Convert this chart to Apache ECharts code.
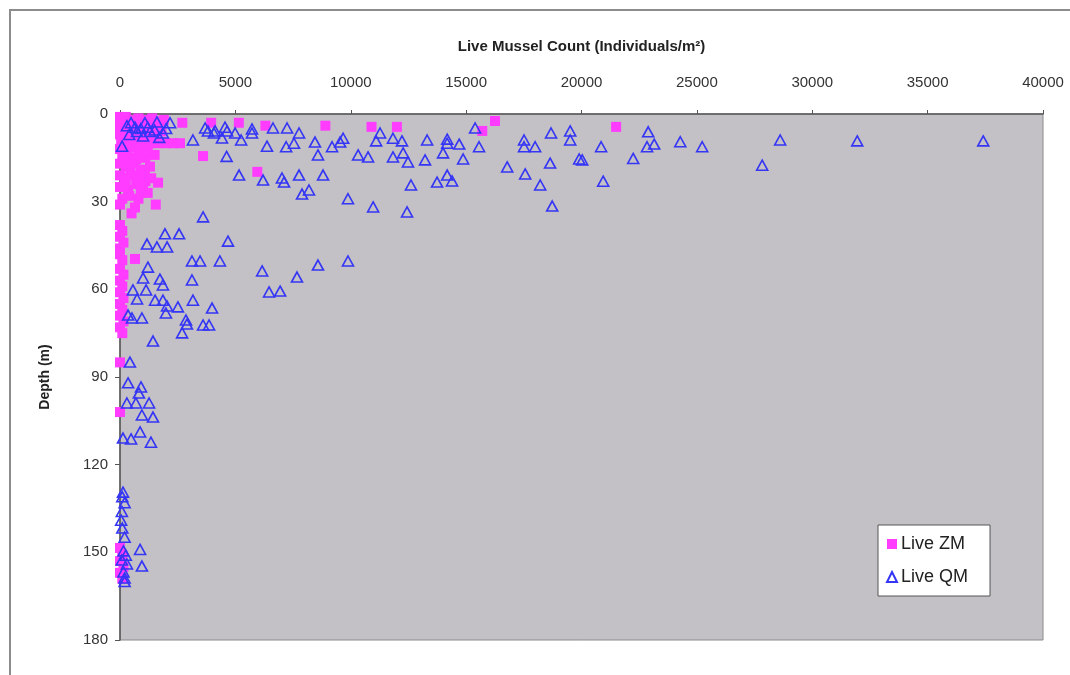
<!DOCTYPE html>
<html>
<head>
<meta charset="utf-8">
<script src="https://cdn.jsdelivr.net/npm/echarts@6/dist/echarts.min.js"></script>
<style>
  html, body { margin: 0; padding: 0; background: #fff; }
  #chart { width: 1070px; height: 675px; }
</style>
</head>
<body>
<div id="chart"></div>
<script>
// x tick labels on the top axis
const xTicks = [0, 5000, 10000, 15000, 20000, 25000, 30000, 35000, 40000];
const depthTicks = [0, 30, 60, 90, 120, 150, 180];

// Live ZM: [count, depth]
const liveZM = [
  [0, 1], [100, 2], [250, 1], [400, 3], [600, 2], [800, 1.5], [1000, 3], [1200, 2], [1400, 1.5], [1700, 2.5], [1900, 2],
  [0, 4], [150, 5], [350, 6], [550, 4.5], [750, 6], [950, 5], [1150, 7], [1350, 6], [1550, 5],
  [0, 7], [200, 8], [450, 9], [700, 8], [900, 10], [1100, 9], [1300, 10], [1500, 8],
  [300, 3.5], [700, 3.5], [1100, 4.5], [1600, 7], [1800, 6], [50, 10], [600, 10.5],
  [2000, 10], [2300, 10], [2600, 10], [1650, 10],
  [2700, 3], [3950, 3], [5150, 3], [6300, 4], [8900, 4], [10900, 4.4], [12000, 4.4], [15700, 5.8], [16250, 2.4], [21500, 4.4],
  [3600, 14.4], [5950, 19.8],
  [0, 12], [100, 14], [300, 13], [500, 15], [800, 13], [1100, 15], [0, 17], [250, 18], [600, 17], [900, 19], [1300, 18],
  [400, 11.5], [700, 15.5], [1200, 12.5], [1500, 14], [150, 16], [450, 19.5], [750, 21.5], [1100, 23],
  [0, 21], [200, 22], [500, 21], [1080, 20], [1350, 22], [1650, 23.5], [0, 25], [350, 26], [700, 24], [1000, 25], [1200, 27],
  [100, 29], [400, 28], [800, 29], [1550, 31], [650, 32], [500, 34], [0, 31], [250, 24], [900, 27],
  [0, 38], [100, 40], [0, 42], [150, 44], [0, 46], [0, 48], [650, 49.6], [100, 50], [0, 53], [150, 55], [0, 57], [100, 59],
  [0, 61], [150, 63], [0, 65], [100, 67], [0, 69], [150, 71], [0, 73], [100, 75],
  [0, 85], [0, 102],
  [0, 148.5], [100, 151], [0, 153], [150, 155], [0, 157], [100, 159]
];

// Live QM: [count, depth]
const liveQM = [
  [480, 3], [1080, 3], [1600, 2.7], [2170, 3], [740, 6], [1300, 6], [1860, 6.5], [90, 11], [300, 4], [650, 4.5], [900, 5],
  [1200, 4.5], [1500, 5.5], [2000, 5], [400, 7], [1000, 7.5], [1700, 8],
  [3160, 8.9], [3690, 4.8], [3810, 5.8], [4070, 6.5], [4120, 5.8], [4420, 8.2], [4550, 4.5], [4640, 5.8], [4990, 6.5],
  [5250, 8.9], [5720, 5.1], [5720, 6.5], [6370, 11], [6630, 4.8], [7240, 4.8], [7760, 6.5], [7200, 11.2], [7540, 10],
  [8450, 9.6], [8580, 14], [9190, 11.2], [9540, 9.6], [4620, 14.5], [5160, 20.9], [6200, 22.6], [7020, 21.9], [7110, 23.3],
  [7760, 20.9], [7890, 27.4], [8190, 26], [8800, 20.9], [3600, 35.2], [9880, 29],
  [9670, 8.3], [11270, 6.5], [11100, 9.2], [11830, 8.3], [12220, 9.2], [13310, 8.9], [14180, 8.6], [14180, 10], [14700, 10.3],
  [15390, 4.8], [15560, 11.2], [17510, 8.9], [17510, 11.2], [17990, 11.2], [18680, 6.5], [19510, 5.8], [19510, 8.9],
  [10320, 14], [10750, 14.7], [11830, 14.7], [12270, 13.3], [12480, 16.4], [13220, 15.7], [14000, 13.3], [14870, 15.4],
  [16780, 18.1], [18640, 16.8], [19900, 15.4], [17560, 20.5], [18210, 24.3], [13740, 23.3], [14180, 20.9], [14390, 22.9],
  [12610, 24.3], [10970, 31.8], [12440, 33.5], [18730, 31.5],
  [22890, 6.1], [22840, 11.2], [23150, 10.3], [20850, 11.2], [20030, 15.7], [22240, 15.2], [20940, 23], [24280, 9.5],
  [25230, 11.2], [28610, 8.9], [27830, 17.5], [31950, 9.2], [37410, 9.2],
  [1950, 41], [2560, 41], [4680, 43.5], [1170, 44.5], [1600, 45.5], [2040, 45.5], [3120, 50.3], [3470, 50.3], [4330, 50.3],
  [1210, 52.4], [6160, 53.7], [7670, 55.8], [8580, 51.7], [9880, 50.3], [6460, 60.9], [6940, 60.6], [1000, 56.1], [1730, 56.5],
  [1860, 58.5], [3120, 56.8], [560, 60.2], [1130, 60.2], [740, 63.3], [1520, 63.7], [1860, 63.7], [2040, 65.7], [2510, 66],
  [3160, 63.7], [3990, 66.4], [1990, 68.1], [350, 68.8], [520, 69.8], [950, 69.8], [2860, 70.5], [2900, 71.9], [3600, 72.2],
  [3860, 72.2], [2690, 74.9], [1430, 77.7],
  [430, 84.9], [350, 92], [910, 93.4], [820, 95.5], [300, 98.9], [690, 98.9], [1260, 98.9], [950, 103], [1430, 103.7],
  [870, 108.8], [130, 110.9], [480, 111.2], [1340, 112.3],
  [130, 129.4], [100, 131], [200, 133], [80, 136], [50, 139], [100, 141.7], [200, 144.8], [870, 149], [150, 149.5],
  [250, 151], [80, 152.6], [950, 154.7], [300, 154], [150, 156.7], [200, 158.8], [200, 160]
];

const chart = echarts.init(document.getElementById('chart'), null, { renderer: 'canvas' });
const labelFont = "'Liberation Sans', Arial, sans-serif";

chart.setOption({
  animation: false,
  backgroundColor: '#fff',
  grid: {
    left: 120, right: 27, top: 114, bottom: 35,
    show: true, backgroundColor: '#c3c1c5', borderColor: '#8a8a8a', borderWidth: 1
  },
  graphic: [{
    type: 'rect',
    shape: { x: 10, y: 10, width: 1080, height: 700 },
    style: { fill: 'none', stroke: '#8c8c8c', lineWidth: 2 },
    silent: true
  }],
  legend: {
    orient: 'vertical',
    left: 878, top: 525,
    backgroundColor: '#fff',
    borderColor: '#555', borderWidth: 1,
    padding: [10, 22, 10, 8],
    itemGap: 15, itemWidth: 10, itemHeight: 10,
    textStyle: { fontFamily: labelFont, fontSize: 18, color: '#222', padding: [0, 0, 0, -1] },
    data: ['Live ZM', 'Live QM']
  },
  xAxis: {
    type: 'value', position: 'top',
    min: 0, max: 40000, interval: 5000,
    name: 'Live Mussel Count (Individuals/m²)',
    nameLocation: 'middle', nameGap: 60,
    nameTextStyle: { fontFamily: labelFont, fontSize: 15, fontWeight: 'bold', color: '#222' },
    axisLine: { lineStyle: { color: '#555', width: 1.5 } },
    axisTick: { show: true, length: 4, lineStyle: { color: '#555' } },
    axisLabel: {
      fontFamily: labelFont, fontSize: 15, color: '#333', margin: 24,
      formatter: v => xTicks.includes(v) ? String(v) : ''
    },
    splitLine: { show: false }
  },
  yAxis: {
    type: 'value', inverse: true,
    min: 0, max: 180, interval: 30,
    name: 'Depth (m)',
    nameLocation: 'middle', nameGap: 68, nameRotate: 90,
    nameTextStyle: { fontFamily: labelFont, fontSize: 14, fontWeight: 'bold', color: '#222' },
    axisLine: { lineStyle: { color: '#555', width: 1.5 } },
    axisTick: { show: true, length: 5, lineStyle: { color: '#555' } },
    axisLabel: {
      fontFamily: labelFont, fontSize: 15, color: '#333', margin: 12,
      formatter: v => depthTicks.includes(v) ? String(v) : ''
    },
    splitLine: { show: false }
  },
  series: [
    {
      name: 'Live ZM', type: 'scatter',
      symbol: 'rect', symbolSize: 10,
      itemStyle: { color: '#ff3cff', opacity: 1 },
      data: liveZM, z: 2
    },
    {
      name: 'Live QM', type: 'scatter',
      symbol: 'triangle', symbolSize: [11, 10],
      itemStyle: { color: 'rgba(0,0,0,0)', borderColor: '#3535f5', borderWidth: 1.6, opacity: 1 },
      data: liveQM, z: 3
    }
  ]
});
</script>
</body>
</html>
